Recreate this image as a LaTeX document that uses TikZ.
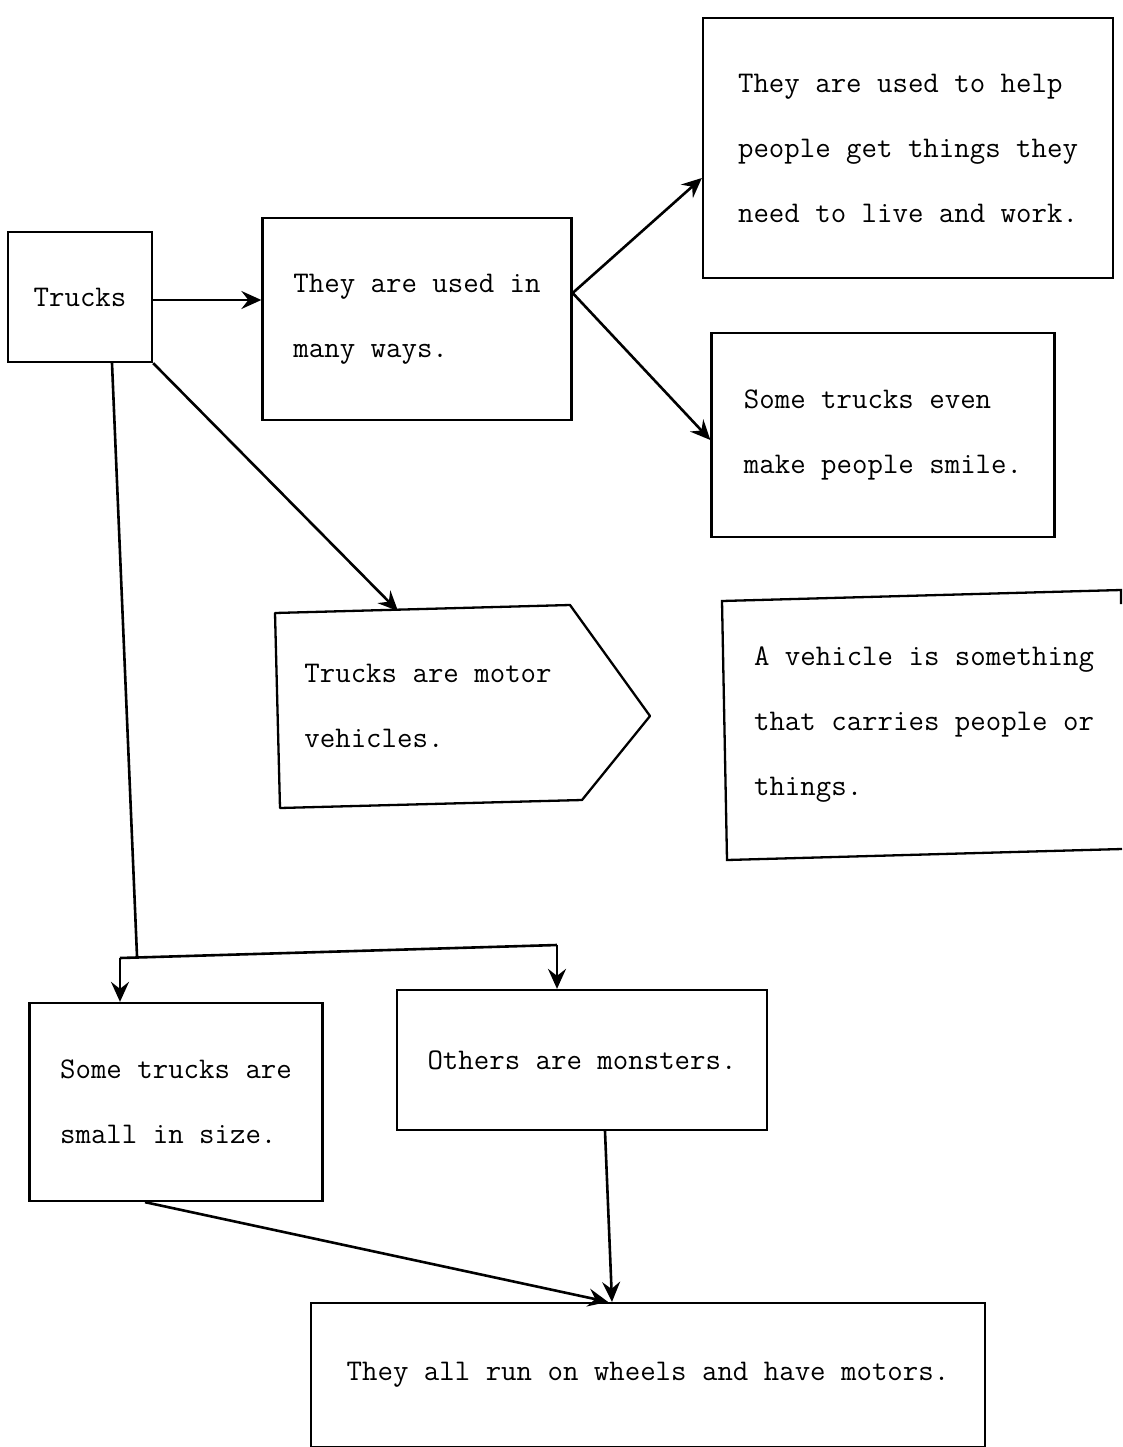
\documentclass[tikz,border=0pt]{standalone}
\usepackage{fontspec}
\usetikzlibrary{arrows.meta,calc}
\begin{document}
\begin{tikzpicture}[x=1pt,y=-1pt,
  txt/.style={inner sep=0pt,align=left,font=\fontsize{30}{65}\selectfont\ttfamily},
  box/.style={txt,draw,line width=2.3pt},
  arr/.style={line width=2.6pt,-{Stealth[length=20pt,width=18pt,inset=7pt]}},
  ln/.style={line width=2.6pt}]
\useasboundingbox[fill=white] (0,0) rectangle (1122,1447);

\node[box,minimum width=144pt,minimum height=130pt] (trucks) at (80,297) {Trucks};
\node[box,minimum width=309pt,minimum height=202pt] (used) at (417,319) {They are used in\\many ways.};
\node[box,minimum width=410pt,minimum height=260pt] (help) at (908,148) {They are used to help\\people get things they\\need to live and work.};
\node[box,minimum width=343pt,minimum height=204pt] (smile) at (883,435) {Some trucks even\\make people smile.};

% pentagon
\draw[line width=2.3pt,line join=round] (275,613) -- (570,605) -- (650,716) -- (582,800) -- (280,808) -- cycle;
\node[txt] (motor) at (428,706) {Trucks are motor\\vehicles.};
\coordinate (ptop) at (398,611);

% vehicle box (cut at the right edge)
\draw[line width=2.3pt] (1121,604) -- (1121,590) -- (722,601) -- (727,860) -- (1122,849);
\node[txt] (veh) at (924,725) {A vehicle is something\\that carries people or\\things.};

\node[box,minimum width=293pt,minimum height=198pt] (small) at (176,1102) {Some trucks are\\small in size.};
\node[box,minimum width=370pt,minimum height=140pt] (others) at (582,1060) {Others are monsters.};
\node[box,minimum width=674pt,minimum height=144pt] (wheels) at (648,1375) {They all run on wheels and have motors.};

% connectors
\draw[arr] ([yshift=-3pt]trucks.east) -- ([yshift=-3pt]trucks.east -| used.west);
\draw[arr] ([yshift=26pt]used.east) -- ([yshift=-30pt]help.west);
\draw[arr] ([yshift=26pt]used.east) -- ([yshift=-5pt]smile.west);
\draw[arr] (trucks.south east) -- (ptop);

\coordinate (j1) at (137,956);
\coordinate (j0) at (120,958);
\coordinate (j2) at (557,945);
\draw[ln] ([xshift=32pt]trucks.south) -- (j1);
\draw[ln] (j0) -- (j2);
\draw[arr] (j0) -- (j0 |- small.north);
\draw[arr] (j2) -- (j2 |- others.north);

\draw[arr] ([xshift=-31pt]small.south) -- ([xshift=-40pt]wheels.north);
\draw[arr] ([xshift=23pt]others.south) -- ([xshift=-36pt]wheels.north);
\end{tikzpicture}
\end{document}
